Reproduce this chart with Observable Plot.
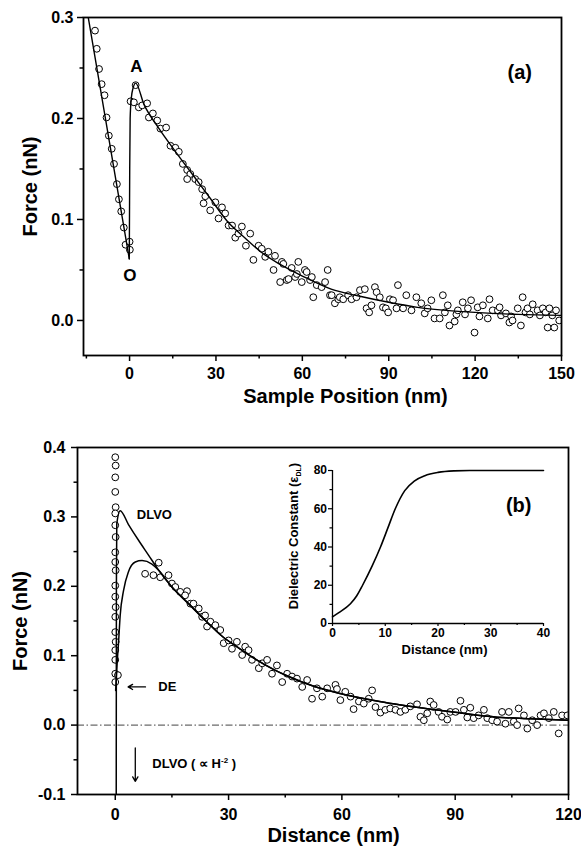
<!DOCTYPE html>
<html><head><meta charset="utf-8">
<script src="https://cdn.jsdelivr.net/npm/d3@7"></script>
<script src="https://cdn.jsdelivr.net/npm/@observablehq/plot@0.6"></script>
<style>
body{margin:0;background:#fff;}
#wrap{position:relative;width:581px;height:847px;overflow:hidden;}
#wrap svg{position:absolute;}
</style></head><body><div id="wrap"></div>
<script>
const FONT = '"Liberation Sans", Arial, Helvetica, sans-serif';

// ---------- Panel (a) ----------
const xTicksA = [0, 30, 60, 90, 120, 150];
const xMinorA = [-15, 15, 45, 75, 105, 135];
const yTicksA = [0.0, 0.1, 0.2, 0.3];
const yMinorA = [0.05, 0.15, 0.25];
const pointsA = [
  [-12.0,0.287],[-11.4,0.269],[-10.6,0.249],[-9.7,0.234],[-8.7,0.223],[-8.0,0.201],[-7.2,0.183],[-6.2,0.170],
  [-5.4,0.155],[-4.4,0.135],[-3.7,0.120],[-2.9,0.108],[-2.0,0.092],[-1.4,0.075],[0,0.078],[0.1,0.070],
  [0.35,0.217],[1.5,0.216],[2.1,0.233],[3.2,0.211],[4.4,0.213],[6.1,0.215],[6.7,0.201],[8.1,0.205],[9.6,0.198],
  [10.7,0.190],[12.7,0.191],[14.2,0.173],[15.9,0.171],[17.1,0.167],[18.5,0.155],[20.0,0.149],[21.1,0.145],
  [20.0,0.140],[22.8,0.140],[24.0,0.137],[25.2,0.130],[26.3,0.123],[25.7,0.116],[28.0,0.109],[29.8,0.117],
  [32.1,0.112],[30.9,0.101],[33.2,0.106],[34.4,0.094],[35.6,0.094],[36.7,0.082],[39.0,0.093],[37.8,0.086],
  [40.4,0.074],[41.9,0.086],[43.0,0.060],[44.8,0.074],[45.9,0.071],[47.1,0.063],[48.2,0.068],[50.0,0.050],
  [50.5,0.064],[52.3,0.038],[52.9,0.058],[53.4,0.056],[54.6,0.040],[55.2,0.041],[56.3,0.052],[57.5,0.043],
  [58.1,0.046],[58.6,0.058],[59.8,0.038],[60.9,0.050],[61.5,0.048],[62.7,0.040],[63.3,0.043],[63.8,0.023],
  [65.0,0.035],[66.7,0.033],[67.9,0.038],[68.8,0.050],[69.6,0.025],[70.2,0.025],[71.3,0.017],[72.5,0.021],
  [73.0,0.023],[74.2,0.021],[75.9,0.025],[77.1,0.021],[78.8,0.023],[80.0,0.030],[81.7,0.031],[82.3,0.012],
  [83.2,0.008],[84.0,0.015],[85.2,0.033],[85.8,0.028],[86.9,0.023],[88.0,0.013],[89.0,0.012],[89.8,0.008],
  [90.4,0.021],[91.5,0.020],[93.2,0.035],[92.7,0.012],[95.0,0.012],[96.1,0.025],[97.9,0.010],[99.6,0.023],
  [101.3,0.017],[102.5,0.007],[103.5,0.012],[104.8,0.020],[105.9,0.002],[107.7,0.002],[108.8,0.025],[109.5,0.008],
  [110.5,0.015],[111.1,-0.005],[112.9,-0.001],[113.5,0.006],[114.0,0.010],[115.7,0.018],[116.5,0.006],[117.5,0.012],
  [118.6,0.020],[119.8,-0.012],[120.9,0.013],[121.5,0.004],[122.7,0.015],[124.4,0.002],[125.0,0.021],[126.1,0.010],
  [127.9,0.010],[128.5,0.013],[129.0,0.005],[130.7,0.007],[131.9,-0.002],[132.5,0.004],[133.0,0.000],[134.8,0.012],
  [135.9,-0.005],[136.5,0.023],[137.5,0.008],[138.2,0.012],[139.0,0.006],[140.0,0.016],[141.7,0.010],[142.5,0.005],
  [143.5,0.012],[144.5,0.008],[145.2,-0.007],[145.8,0.012],[146.8,0.005],[147.5,-0.007],[148.1,0.010],[149.2,0.000]
];
const fitALeft = [[-15,0.311],[-0.1,0.061]];
const fitARight = [[-0.1,0.061],[0.05,0.15],[0.2,0.2],[0.6,0.22],[1.2,0.23],[2.1,0.235],[5,0.214],[10,0.191],
  [16,0.167],[22,0.144],[28,0.121],[34,0.098],[40,0.082],[46,0.067],[52,0.056],[60,0.044],[70,0.031],[80,0.024],
  [90,0.018],[100,0.013],[110,0.010],[120,0.008],[135,0.006],[150,0.005]];
const labelsA = [
  {x: 2.4, y: 0.2515, text: "A", size: 17},
  {x: 0.1, y: 0.044, text: "O", size: 17},
  {x: 135.5, y: 0.2455, text: "(a)", size: 20}
];

// ---------- Panel (b) ----------
const xTicksB = [0, 30, 60, 90, 120];
const xMinorB = [15, 45, 75, 105];
const yTicksB = [-0.1, 0.0, 0.1, 0.2, 0.3, 0.4];
const yMinorB = [-0.05, 0.05, 0.15, 0.25, 0.35];
const pointsB = [
  [0,0.386],[0.1,0.374],[0,0.357],[0,0.336],[0.1,0.314],[0,0.305],[0,0.288],[0.1,0.271],[0,0.249],[0,0.235],
  [0.1,0.223],[0,0.201],[0,0.185],[0.1,0.170],[0,0.156],[0,0.134],[0.1,0.120],[0,0.108],[0,0.094],[0,0.074],
  [0,0.062],[0.7,0.072],
  [7.9,0.218],[10.1,0.216],[11.5,0.234],[11.9,0.213],[14.1,0.216],[15.0,0.204],[15.9,0.199],[17.2,0.192],
  [19.0,0.193],[18.5,0.187],[19.9,0.175],[20.7,0.175],[22.1,0.168],[23.0,0.156],[23.8,0.158],[24.3,0.142],
  [25.2,0.149],[26.5,0.144],[27.8,0.137],[28.7,0.118],[30.0,0.122],[30.9,0.110],[32.2,0.120],[33.6,0.101],
  [34.4,0.113],[35.3,0.108],[36.2,0.094],[38.0,0.082],[38.9,0.089],[40.2,0.094],[41.5,0.074],[42.8,0.086],
  [44.2,0.062],[45.5,0.074],[46.8,0.070],[48.1,0.067],[49.5,0.055],[50.8,0.065],[52.1,0.038],[53.4,0.053],
  [54.8,0.041],[56.1,0.053],[58.3,0.058],[58.7,0.052],[59.6,0.036],[60.9,0.048],[62.3,0.041],[63.1,0.023],
  [64.5,0.034],[65.8,0.031],[67.1,0.038],[68.0,0.050],[68.9,0.026],[70.2,0.018],[71.5,0.022],[72.8,0.024],
  [74.2,0.022],[75.5,0.019],[76.8,0.022],[78.1,0.027],[79.9,0.030],[80.8,0.012],[81.7,0.007],[82.6,0.017],
  [83.4,0.034],[84.3,0.029],[85.6,0.019],[86.5,0.012],[87.9,0.008],[88.7,0.019],[90.1,0.019],[91.4,0.035],
  [92.3,0.022],[93.2,0.011],[94.0,0.025],[94.9,0.010],[96.2,0.014],[97.6,0.022],[98.5,0.010],[99.8,0.007],
  [101.1,0.005],[102.4,0.019],[103.3,0.002],[104.2,0.019],[105.5,0.005],[106.4,0.000],[106.8,0.024],[108.2,0.014],
  [109.1,-0.005],[110.4,0.007],[111.7,0.000],[112.6,0.014],[113.5,0.017],[114.8,0.010],[116.1,0.019],[117.4,-0.012],
  [118.3,0.014],[119.7,0.014]
];
const dlvoHead = [[0.25,-0.13],[0.3,0.2],[0.4,0.29],[1.3,0.309],[3.5,0.289],[6.2,0.266],[8.8,0.245],[11.5,0.223]];
const deHead = [[0.1,0.05],[0.5,0.09],[0.9,0.122],[1.3,0.158],[2.2,0.194],[3.5,0.221],[5.3,0.235],[7.1,0.237],
  [9.7,0.232],[11.5,0.223]];
const fitTailB = [[15,0.199],[19.4,0.175],[24,0.150],[28.3,0.128],[33,0.110],[37.1,0.095],[42,0.080],[45.9,0.070],
  [52,0.057],[59.2,0.046],[70,0.034],[84.8,0.022],[95,0.015],[102.4,0.011],[110,0.009],[120,0.007]];
const arrowsB = [
  {x1: 8.0, y1: 0.055, x2: 3.4, y2: 0.055},
  {x1: 5.3, y1: -0.033, x2: 5.3, y2: -0.081}
];
const labelsB = [
  {x: 5.7, y: 0.303, text: "DLVO"},
  {x: 11.4, y: 0.055, text: "DE"},
  {x: 9.8, y: -0.056, text: "DLVO ( \u221D H\u207B\u00B2 )"}
];
const panelLabelB = [{x: 106.8, y: 0.3165, text: "(b)"}];

// ---------- Inset ----------
const xTicksIn = [0, 10, 20, 30, 40];
const xMinorIn = [5, 15, 25, 35];
const yTicksIn = [0, 20, 40, 60, 80];
const yMinorIn = [10, 30, 50, 70];
const distIn = [0, 1.2, 3.4, 4.6, 5.7, 7.5, 9.1, 10.5, 11.9, 13.7, 15.5, 17.5, 20, 23, 26, 40];
const epsIn  = [3.5, 5.7, 10.3, 14.5, 20, 30, 40, 50, 60, 69.5, 74.5, 77.3, 79, 79.8, 80, 80];

const baseStyle = (fs) => ({fontFamily: FONT, fontSize: fs, fontWeight: "bold", color: "black", background: "transparent", overflow: "visible"});
const X = d => d[0], Y = d => d[1];
const yTitle = (t, dx, dy, fs) => Plot.text([t], {text: d => d, frameAnchor: "left", rotate: -90, dx, dy, fontSize: fs, textAnchor: "middle", lineAnchor: "middle"});
const xTitle = (t, dx, dy, fs) => Plot.text([t], {text: d => d, frameAnchor: "bottom", dx, dy, fontSize: fs, textAnchor: "middle", lineAnchor: "middle"});

const plotA = Plot.plot({
  width: 581, height: 410,
  marginTop: 17, marginLeft: 83, marginRight: 20, marginBottom: 55,
  x: {domain: [-16, 150]},
  y: {domain: [-0.0347, 0.3]},
  style: baseStyle("16px"),
  marks: [
    Plot.axisY({ticks: yTicksA, tickSize: 6, tickPadding: 4, tickFormat: d => d.toFixed(1), label: null, strokeWidth: 1.5}),
    Plot.axisY({ticks: yMinorA, tickSize: 3.5, tickFormat: () => "", label: null, strokeWidth: 1.5}),
    Plot.axisX({ticks: xTicksA, tickSize: 6, tickPadding: 6, tickFormat: d => String(d), label: null, strokeWidth: 1.5}),
    Plot.axisX({ticks: xMinorA, tickSize: 3.5, tickFormat: () => "", label: null, strokeWidth: 1.5}),
    Plot.dot(pointsA, {x: X, y: Y, r: 3.4, fill: "white", stroke: "black", strokeWidth: 1, clip: true}),
    Plot.line(fitALeft, {x: X, y: Y, stroke: "black", strokeWidth: 1.4, clip: true}),
    Plot.line(fitARight, {x: X, y: Y, stroke: "black", strokeWidth: 1.4, curve: "monotone-x", clip: true}),
    Plot.frame({stroke: "black", strokeWidth: 1.8}),
    Plot.text(labelsA, {x: "x", y: "y", text: "text", fontSize: d => d.size}),
    yTitle("Force (nN)", -53, 0, 20),
    xTitle("Sample Position (nm)", 23, 41, 20)
  ]
});

const plotB = Plot.plot({
  width: 581, height: 437,
  marginTop: 37, marginLeft: 77, marginRight: 13, marginBottom: 53,
  x: {domain: [-10, 120]},
  y: {domain: [-0.1, 0.4]},
  style: baseStyle("16px"),
  marks: [
    Plot.ruleY([0], {stroke: "#444", strokeWidth: 1, strokeDasharray: "7,2.5,1.5,2.5"}),
    Plot.axisY({ticks: yTicksB, tickSize: 6, tickPadding: 6, tickFormat: d => d.toFixed(1), label: null, strokeWidth: 1.5}),
    Plot.axisY({ticks: yMinorB, tickSize: 3.5, tickFormat: () => "", label: null, strokeWidth: 1.5}),
    Plot.axisX({ticks: xTicksB, tickSize: 6, tickPadding: 8, tickFormat: d => String(d), label: null, strokeWidth: 1.5}),
    Plot.axisX({ticks: xMinorB, tickSize: 3.5, tickFormat: () => "", label: null, strokeWidth: 1.5}),
    Plot.dot(pointsB, {x: X, y: Y, r: 3.4, fill: "white", stroke: "black", strokeWidth: 1, clip: true}),
    Plot.line(dlvoHead.concat(fitTailB), {x: X, y: Y, stroke: "black", strokeWidth: 1.5, curve: "monotone-x", clip: true}),
    Plot.line(deHead.concat(fitTailB), {x: X, y: Y, stroke: "black", strokeWidth: 1.5, curve: "monotone-x", clip: true}),
    Plot.arrow(arrowsB, {x1: "x1", y1: "y1", x2: "x2", y2: "y2", stroke: "black", strokeWidth: 1.3, headLength: 6}),
    Plot.frame({stroke: "black", strokeWidth: 1.8}),
    Plot.text(labelsB, {x: "x", y: "y", text: "text", fontSize: 13, textAnchor: "start"}),
    Plot.text(panelLabelB, {x: "x", y: "y", text: "text", fontSize: 20, textAnchor: "middle"}),
    yTitle("Force (nN)", -57, 0, 20),
    xTitle("Distance (nm)", 10.5, 41, 20)
  ]
});

const plotIn = Plot.plot({
  width: 285, height: 200,
  marginTop: 10, marginLeft: 52, marginRight: 22, marginBottom: 37,
  x: {domain: [0, 40]},
  y: {domain: [0, 80]},
  style: baseStyle("12px"),
  marks: [
    Plot.ruleX([0], {stroke: "black", strokeWidth: 1.3}),
    Plot.ruleY([0], {stroke: "black", strokeWidth: 1.3}),
    Plot.axisY({ticks: yTicksIn, tickSize: 4, tickPadding: 1.5, tickFormat: d => String(d), label: null, strokeWidth: 1.2}),
    Plot.axisY({ticks: yMinorIn, tickSize: 2.5, tickFormat: () => "", label: null, strokeWidth: 1.2}),
    Plot.axisX({ticks: xTicksIn, tickSize: 3, tickPadding: 2, tickFormat: d => String(d), label: null, strokeWidth: 1.2}),
    Plot.axisX({ticks: xMinorIn, tickSize: 2, tickFormat: () => "", label: null, strokeWidth: 1.2}),
    Plot.line(distIn.map((d, i) => [d, epsIn[i]]), {x: X, y: Y, stroke: "black", strokeWidth: 1.6, curve: "monotone-x"}),
    yTitle("Dielectric Constant (\u03B5DL)", -39, -11, 13),
    xTitle("Distance (nm)", 6.5, 26, 13)
  ]
});

const wrap = document.getElementById("wrap");
function place(svg, left, top) { svg.style.left = left + "px"; svg.style.top = top + "px"; wrap.appendChild(svg); }
place(plotA, 0, 0);
place(plotB, 0, 410);
place(plotIn, 280, 460);

// subscript / superscript fix-ups
function rich(svg, match, parts) {
  svg.querySelectorAll("text").forEach(t => {
    if (t.textContent === match) {
      t.textContent = "";
      parts.forEach(p => {
        const ts = document.createElementNS("http://www.w3.org/2000/svg", "tspan");
        ts.textContent = p.t;
        if (p.dy) ts.setAttribute("dy", p.dy);
        if (p.fs) ts.setAttribute("font-size", p.fs);
        t.appendChild(ts);
      });
    }
  });
}
rich(plotIn, "Dielectric Constant (\u03B5DL)", [
  {t: "Dielectric Constant (\u03B5"}, {t: "DL", fs: 7, dy: 3}, {t: ")", dy: -3}
]);
rich(plotB, "DLVO ( \u221D H\u207B\u00B2 )", [
  {t: "DLVO ( \u221D H"}, {t: "-2", fs: 8, dy: -5}, {t: " )", dy: 5}
]);
</script></body></html>
